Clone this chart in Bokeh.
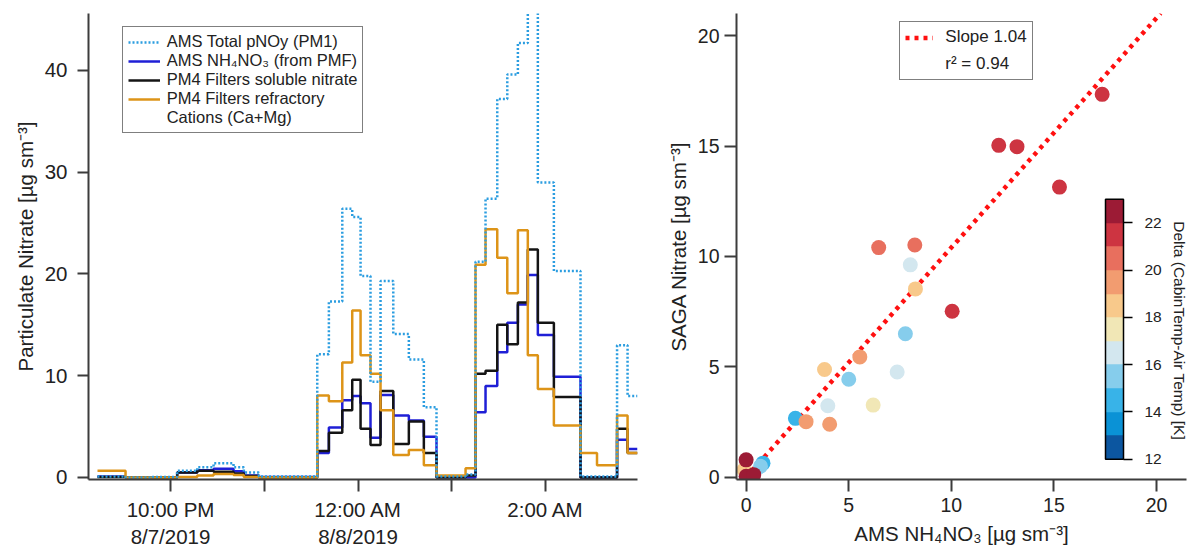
import math
from bokeh.plotting import figure
from bokeh.models import (ColumnDataSource, FixedTicker, Range1d, Legend, LegendItem,
                          LinearColorMapper, ColorBar, Label)
from bokeh.layouts import row
from bokeh.transform import linear_cmap
from bokeh.embed import file_html
from bokeh.resources import INLINE

FONT = "Liberation Sans"
TXT = "#222222"
AX = "#3c3c3c"

# ---------------- left panel: time series (hours since 8/7/2019 00:00) ----------------
time_edges = [21.221, 21.520, 21.805, 22.071, 22.285, 22.459, 22.672, 22.782, 22.942,
              23.565, 23.689, 23.832, 23.938, 24.027, 24.133, 24.240, 24.376, 24.542,
              24.702, 24.837, 25.147, 25.253, 25.360, 25.485, 25.592, 25.705, 25.811,
              25.918, 26.089, 26.373, 26.549, 26.763, 26.875, 26.981]
total_pnoy = [0.1, 0.0, 0.05, 0.65, 1.0, 1.4, 1.0, 0.5, 0.1, 12.1, 17.3, 26.4, 25.6,
              19.8, 9.4, 19.3, 14.1, 11.6, 6.9, 0.1, 0.3, 21.2, 27.4, 37.2, 39.6, 42.7,
              46.0, 29.0, 20.3, 0.1, 0.1, 13.0, 8.0]
ams_nh4no3 = [0.1, 0.0, 0.0, 0.5, 0.7, 0.85, 0.6, 0.2, 0.05, 2.4, 4.9, 7.6, 8.0, 7.3,
              3.9, 8.1, 6.1, 5.6, 4.0, 0.05, 0.0, 6.4, 9.0, 12.3, 15.2, 17.0, 19.9, 14.0,
              9.9, 0.0, 0.0, 3.7, 2.8]
filter_nitrate = [0.05, 0.0, 0.0, 0.5, 0.65, 0.55, 0.4, 0.15, 0.0, 2.6, 4.4, 6.6, 9.6,
                  4.8, 3.2, 8.5, 3.3, 5.5, 2.4, 0.0, 0.2, 10.2, 10.5, 15.0, 13.1, 17.2,
                  22.4, 15.2, 7.9, 0.0, 0.0, 4.8, 2.4]
filter_cations = [0.65, 0.0, 0.0, 0.05, 0.2, 0.35, 0.25, 0.05, 0.0, 8.05, 7.5, 11.3,
                  16.4, 12.0, 10.2, 6.6, 2.2, 2.7, 1.2, 0.2, 0.9, 20.9, 24.4, 21.6, 18.1,
                  24.3, 12.0, 8.7, 5.1, 2.4, 1.2, 6.1, 2.4]
time_ticks = [22, 23, 24, 25, 26]
time_tick_labels = ["10:00 PM\n8/7/2019", "", "12:00 AM\n8/8/2019", "", "2:00 AM"]
left_y_ticks = [0, 10, 20, 30, 40]
series_labels = ["AMS Total pNOy (PM1)", "AMS NH\u2084NO\u2083 (from PMF)",
                 "PM4 Filters soluble nitrate", "PM4 Filters refractory", "Cations (Ca+Mg)"]

# ---------------- right panel: scatter ----------------
ams_x = [17.35, 12.31, 13.20, 15.27, 6.46, 8.22, 8.00, 8.25, 10.04, 7.76, 5.54, 3.82,
         5.00, 7.36, 3.98, 6.19, 2.40, 2.92, 4.07, 0.82, 0.70, -0.10, 0.00, 0.37, 0.00]
saga_y = [17.34, 15.03, 14.97, 13.14, 10.40, 10.52, 9.62, 8.53, 7.52, 6.50, 5.45, 4.88,
          4.44, 4.77, 3.24, 3.27, 2.67, 2.52, 2.40, 0.64, 0.50, 0.34, 0.05, 0.12, 0.79]
delta_t = [21.5, 21.5, 21.5, 21.5, 20.5, 20.5, 16.5, 18.5, 21.5, 15.5, 19.5, 18.5,
           15.5, 16.5, 16.5, 17.5, 14.5, 19.5, 19.5, 14.5, 15.5, 18.5, 22.5, 22.5, 22.5]
fit_slope = 1.04
fit_x = [0.0, 20.2]
fit_labels = ["Slope 1.04", "r\u00b2 = 0.94"]
scatter_ticks = [0, 5, 10, 15, 20]
delta_low, delta_high = 12, 23
delta_ticks = [12, 14, 16, 18, 20, 22]
delta_palette = ["#0c56a0", "#0a92d6", "#38b3e8", "#86cdec", "#d3e7ef", "#f1e7b6",
                 "#f8c98b", "#f29c70", "#e86f5e", "#cd3441", "#9c1b35"]


def style_axes(p, tick_size="20.5px", label_size="20.5px"):
    p.grid.visible = False
    p.outline_line_color = None
    p.background_fill_color = "white"
    p.border_fill_color = "white"
    for ax in p.axis:
        ax.axis_line_color = AX
        ax.axis_line_width = 2
        ax.major_tick_line_color = AX
        ax.major_tick_line_width = 2
        ax.major_tick_in = 0
        ax.minor_tick_line_color = None
        ax.major_label_text_font = FONT
        ax.major_label_text_font_size = tick_size
        ax.major_label_text_color = TXT
        ax.axis_label_text_font = FONT
        ax.axis_label_text_font_size = label_size
        ax.axis_label_text_font_style = "normal"
        ax.axis_label_text_color = TXT


# ---------------- left figure ----------------
p1 = figure(width=660, height=554, output_backend="svg", toolbar_location=None,
            x_range=Range1d(21.125, 26.981), y_range=Range1d(-0.2, 45.6),
            min_border_left=88, min_border_right=23, min_border_top=13,
            min_border_bottom=75)
style_axes(p1)
p1.xaxis.ticker = FixedTicker(ticks=time_ticks)
p1.xaxis.major_label_overrides = dict(zip(time_ticks, time_tick_labels))
p1.xaxis.major_tick_out = 12
p1.xaxis.major_label_standoff = 6
p1.yaxis.ticker = FixedTicker(ticks=left_y_ticks)
p1.yaxis.major_tick_out = 11
p1.yaxis.major_label_standoff = 10
p1.yaxis.axis_label = "Particulate Nitrate [\u00b5g sm\u207b\u00b3]"
p1.yaxis.axis_label_standoff = 5


def stepped(vals):
    return vals + [vals[-1]]


r_blue = p1.step(time_edges, stepped(ams_nh4no3), mode="after",
                 line_color="#1f1fd6", line_width=2.5)
r_black = p1.step(time_edges, stepped(filter_nitrate), mode="after",
                  line_color="#141414", line_width=2.5)
r_orange = p1.step(time_edges, stepped(filter_cations), mode="after",
                   line_color="#dd9418", line_width=2.5)
r_dot = p1.step(time_edges, stepped(total_pnoy), mode="after",
                line_color="#2b9de0", line_width=2.5, line_dash="2 2")
r_blank1 = p1.line(x=[], y=[], line_alpha=0)

leg1 = Legend(items=[LegendItem(label=series_labels[0], renderers=[r_dot]),
                     LegendItem(label=series_labels[1], renderers=[r_blue]),
                     LegendItem(label=series_labels[2], renderers=[r_black]),
                     LegendItem(label=series_labels[3], renderers=[r_orange]),
                     LegendItem(label=series_labels[4], renderers=[r_blank1])],
              location=(33.7, 345.7), margin=0, padding=5, spacing=0,
              glyph_width=32, glyph_height=18, label_height=18, label_standoff=7,
              label_text_font=FONT, label_text_font_size="16.5px",
              label_text_color=TXT, border_line_color="black", border_line_width=1.5,
              background_fill_color="white", background_fill_alpha=1)
p1.add_layout(leg1)

# ---------------- right figure ----------------
p2 = figure(width=528, height=554, output_backend="svg", toolbar_location=None,
            x_range=Range1d(-0.47, 21.46), y_range=Range1d(-0.1, 21.0),
            min_border_left=76, min_border_right=2, min_border_top=13,
            min_border_bottom=72)
style_axes(p2, tick_size="19.5px")
p2.xaxis.ticker = FixedTicker(ticks=scatter_ticks)
p2.yaxis.ticker = FixedTicker(ticks=scatter_ticks)
p2.xaxis.major_tick_out = 12
p2.yaxis.major_tick_out = 12
p2.xaxis.major_label_standoff = 6
p2.yaxis.major_label_standoff = 5
p2.xaxis.axis_label_standoff = 7
p2.yaxis.axis_label_standoff = 5
p2.xaxis.axis_label = "AMS NH\u2084NO\u2083 [\u00b5g sm\u207b\u00b3]"
p2.yaxis.axis_label = "SAGA Nitrate [\u00b5g sm\u207b\u00b3]"

r_fit = p2.line(fit_x, [fit_slope * v for v in fit_x], line_color="#ff1010",
                line_width=4.5, line_dash="4 5")
src = ColumnDataSource(dict(x=ams_x, y=saga_y, delta=delta_t))
p2.scatter("x", "y", source=src, size=15, line_color=None,
           fill_color=linear_cmap("delta", delta_palette, delta_low, delta_high))
r_blank2 = p2.line(x=[], y=[], line_alpha=0)

leg2 = Legend(items=[LegendItem(label=fit_labels[0], renderers=[r_fit]),
                     LegendItem(label=fit_labels[1], renderers=[r_blank2])],
              location=(163.3, 398.7), margin=0, padding=5, spacing=7,
              glyph_width=28, glyph_height=19, label_height=19, label_standoff=12,
              label_text_font=FONT, label_text_font_size="17px",
              label_text_color=TXT, border_line_color="black", border_line_width=1.5,
              background_fill_color="white", background_fill_alpha=1)
p2.add_layout(leg2)

mapper = LinearColorMapper(palette=delta_palette, low=delta_low, high=delta_high)
cb = ColorBar(color_mapper=mapper, location=(369, 20.3), orientation="vertical",
              width=18, height=260, padding=0, margin=0,
              ticker=FixedTicker(ticks=delta_ticks),
              major_tick_in=0, major_tick_out=9, major_tick_line_color="black",
              major_tick_line_width=1.5, minor_tick_line_color=None,
              bar_line_color="black", bar_line_width=1.5, label_standoff=12,
              major_label_text_font=FONT, major_label_text_font_size="15.5px",
              major_label_text_color=TXT, background_fill_alpha=0,
              border_line_color=None)
p2.add_layout(cb)

p2.add_layout(Label(x=21.12, y=6.64, text="Delta (CabinTemp-Air Temp) [K]",
                    angle=-math.pi / 2, text_align="center", text_baseline="middle",
                    text_font=FONT, text_font_size="15.5px", text_color=TXT))

layout = row(p1, p2)
open("out.html", "w").write(file_html(layout, INLINE))
